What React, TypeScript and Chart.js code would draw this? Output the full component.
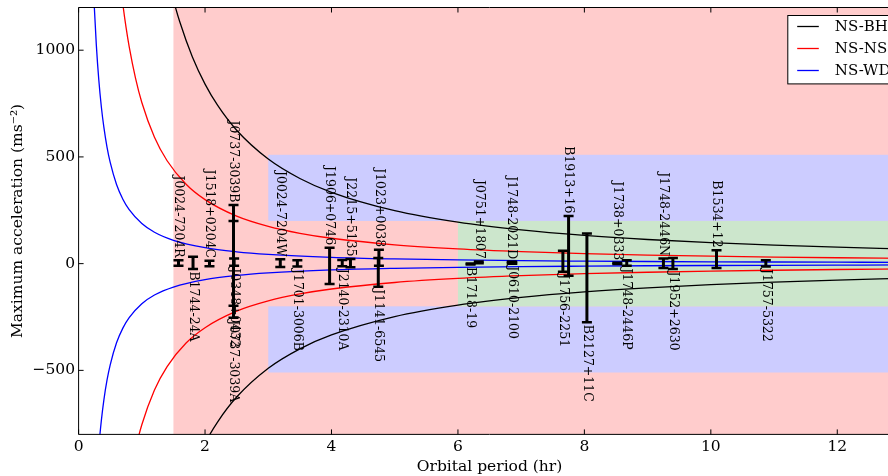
import React, { useEffect, useRef } from "react";
import { Chart, registerables } from "chart.js";

Chart.register(...registerables);

const FONT = "'DejaVu Serif', 'Liberation Serif', serif";

// Axis ticks
const xTicks = [0, 2, 4, 6, 8, 10, 12];
const xTickLabels = ["0", "2", "4", "6", "8", "10", "12"];
const yTicks = [-500, 0, 500, 1000];
const yTickLabels = ["\u2212500", "0", "500", "1000"];

// Curves
const seriesNames = ["NS-BH", "NS-NS", "NS-WD"];
const seriesColors = ["#000000", "#ff0000", "#0000ff"];

const bhPeriods = [1.4, 1.5, 1.6, 1.8, 2, 2.2, 2.5, 3, 3.5, 4, 5, 6, 7, 8, 9, 10, 11, 12, 13];
const bhUpper = [1354, 1235, 1133, 968, 841, 741, 625, 490, 399, 334, 248, 194.4, 158.3, 132.5, 113.2, 98.4, 86.7, 77.2, 69.3];
const bhLower = [-1354, -1235, -1133, -968, -841, -741, -625, -490, -399, -334, -248, -194.4, -158.3, -132.5, -113.2, -98.4, -86.7, -77.2, -69.3];

const nsPeriods = [0.6, 0.65, 0.7, 0.75, 0.8, 0.9, 1.0, 1.2, 1.4, 1.7, 2, 2.5, 3, 3.5, 4, 5, 6, 7, 8, 9, 10, 11, 12, 13];
const nsUpper = [1492, 1341, 1215, 1108, 1017, 869, 755, 592, 482, 372, 300, 222.5, 174.5, 142, 118.9, 88.3, 69.2, 56.4, 47.2, 40.3, 35.0, 30.9, 27.5, 24.7];
const nsLower = [-1492, -1341, -1215, -1108, -1017, -869, -755, -592, -482, -372, -300, -222.5, -174.5, -142, -118.9, -88.3, -69.2, -56.4, -47.2, -40.3, -35.0, -30.9, -27.5, -24.7];

const wdPeriods = [0.22, 0.25, 0.28, 0.32, 0.36, 0.4, 0.45, 0.5, 0.6, 0.7, 0.8, 1.0, 1.2, 1.5, 2, 2.5, 3, 4, 5, 6, 7, 8, 9, 10, 11, 12, 13];
const wdUpper = [1416, 1194, 1026, 859, 734, 638, 545, 474, 371, 302, 253, 188, 147, 109.5, 74.6, 55.4, 43.5, 29.6, 22.0, 17.2, 14.0, 11.8, 10.0, 8.7, 7.7, 6.8, 6.1];
const wdLower = [-1416, -1194, -1026, -859, -734, -638, -545, -474, -371, -302, -253, -188, -147, -109.5, -74.6, -55.4, -43.5, -29.6, -22.0, -17.2, -14.0, -11.8, -10.0, -8.7, -7.7, -6.8, -6.1];

// Pulsars
const pulsarNames = [
  "J0024-7204R", "B1744-24A", "J1518+0204C", "J0737-3039B", "J0737-3039A", "J0348+0432",
  "J0024-7204W", "J1701-3006B", "J1906+0746", "J2140-2310A", "J2215+5135", "J1023+0038",
  "J1141-6545", "B1718-19", "J0751+1807", "J1748-2021D", "J0610-2100", "J1756-2251",
  "B1913+16", "B2127+11C", "J1738+0333", "J1748-2446P", "J1748-2446N", "J1952+2630",
  "B1534+12", "J1757-5322",
];
const pulsarPeriods = [1.58, 1.81, 2.07, 2.45, 2.45, 2.46, 3.19, 3.46, 3.97, 4.17, 4.30, 4.75, 4.74, 6.20, 6.33, 6.85, 6.86, 7.66, 7.75, 8.04, 8.52, 8.67, 9.25, 9.40, 10.09, 10.87];
const accelLow = [-10, -25, -12, -197, -254, -10, -16, -13, -95, -12, -17, -10, -108, -4, 2, 1, 0, -38, -57, -275, -2, -10, -20, -25, -20, -13];
const accelHigh = [16, 32, 14, 275, 200, 24, 21, 16, 75, 17, 22, 65, 26, 1, 10, 9, 8, 60, 223, 141, 4, 16, 24, 27, 63, 16];
const labelSide = [
  "above", "below", "above", "above", "below", "below",
  "above", "below", "above", "below", "above", "above",
  "below", "below", "above", "above", "below", "below",
  "above", "below", "above", "below", "above", "below",
  "above", "below",
];

// Shaded regions
const bandStart = [1.5, 3, 3, 6];
const bandEnd = [13, 13, 13, 13];
const bandLow = [-800, 200, -510, -200];
const bandHigh = [1200, 510, -200, 200];
const bandColors = ["#ffcccc", "#ccccff", "#ccccff", "#cce6cc"];

const toPts = (xs: number[], ys: number[]) => xs.map((x, i) => ({ x, y: ys[i] }));

const bandsPlugin = {
  id: "bands",
  beforeDatasetsDraw(chart: any) {
    const { ctx, chartArea, scales } = chart;
    const xs = scales.x, ys = scales.y;
    ctx.save();
    ctx.beginPath();
    ctx.rect(chartArea.left, chartArea.top, chartArea.right - chartArea.left, chartArea.bottom - chartArea.top);
    ctx.clip();
    for (let i = 0; i < bandStart.length; i++) {
      const x0 = xs.getPixelForValue(bandStart[i]);
      const x1 = xs.getPixelForValue(bandEnd[i]);
      const y0 = ys.getPixelForValue(bandHigh[i]);
      const y1 = ys.getPixelForValue(bandLow[i]);
      ctx.fillStyle = bandColors[i];
      ctx.fillRect(x0, y0, x1 - x0, y1 - y0);
    }
    ctx.restore();
  },
};

const framePlugin = {
  id: "frame",
  afterDatasetsDraw(chart: any) {
    const { ctx, chartArea, scales } = chart;
    const xs = scales.x, ys = scales.y;
    const { left, right, top, bottom } = chartArea;
    ctx.save();
    ctx.strokeStyle = "#000";
    ctx.lineWidth = 1;
    ctx.beginPath();
    ctx.moveTo(left, top);
    ctx.lineTo(right, top);
    ctx.moveTo(left, top);
    ctx.lineTo(left, bottom);
    ctx.lineTo(right, bottom);
    ctx.moveTo(right, top);
    ctx.lineTo(right, bottom);
    const tl = 5;
    xTicks.forEach((v) => {
      const px = xs.getPixelForValue(v);
      ctx.moveTo(px, bottom);
      ctx.lineTo(px, bottom - tl);
      ctx.moveTo(px, top);
      ctx.lineTo(px, top + tl);
    });
    yTicks.forEach((v) => {
      const py = ys.getPixelForValue(v);
      ctx.moveTo(left, py);
      ctx.lineTo(left + tl, py);
      ctx.moveTo(right, py);
      ctx.lineTo(right - tl, py);
    });
    ctx.stroke();
    ctx.restore();
  },
};

const labelsPlugin = {
  id: "pulsarLabels",
  afterDatasetsDraw(chart: any) {
    const { ctx, scales } = chart;
    const xs = scales.x, ys = scales.y;
    ctx.save();
    ctx.fillStyle = "#000";
    ctx.font = `12.5px ${FONT}`;
    ctx.textBaseline = "middle";
    pulsarNames.forEach((name, i) => {
      const px = xs.getPixelForValue(pulsarPeriods[i]);
      const above = labelSide[i] === "above";
      const py = above ? ys.getPixelForValue(accelHigh[i]) - 2.5 : ys.getPixelForValue(accelLow[i]) + 2.5;
      ctx.save();
      ctx.translate(px, py);
      ctx.rotate(Math.PI / 2);
      ctx.textAlign = above ? "right" : "left";
      ctx.fillText(name, 0, 0);
      ctx.restore();
    });
    ctx.restore();
  },
};

const legendPlugin = {
  id: "legendBox",
  afterDraw(chart: any) {
    const { ctx, chartArea } = chart;
    const right = chartArea.right - 7;
    const top = chartArea.top + 8;
    const width = 105.7;
    const height = 68.4;
    const left = right - width;
    ctx.save();
    ctx.fillStyle = "#fff";
    ctx.fillRect(left, top, width, height);
    ctx.strokeStyle = "#000";
    ctx.lineWidth = 1;
    ctx.strokeRect(left, top, width, height);
    ctx.font = `15px ${FONT}`;
    ctx.textBaseline = "middle";
    ctx.textAlign = "left";
    seriesNames.forEach((n, i) => {
      const yy = top + 11 + i * 22;
      ctx.strokeStyle = seriesColors[i];
      ctx.lineWidth = 1.3;
      ctx.beginPath();
      ctx.moveTo(left + 9.4, yy);
      ctx.lineTo(left + 31, yy);
      ctx.stroke();
      ctx.fillStyle = "#000";
      ctx.fillText(n, left + 47, yy + 0.5);
    });
    ctx.restore();
  },
};

export default function App() {
  const ref = useRef<HTMLCanvasElement>(null);

  useEffect(() => {
    document.body.style.margin = "0";
    const errData: any[] = [];
    pulsarNames.forEach((_, i) => {
      errData.push({ x: pulsarPeriods[i], y: accelLow[i] });
      errData.push({ x: pulsarPeriods[i], y: accelHigh[i] });
      errData.push({ x: pulsarPeriods[i], y: null });
    });

    const curve = (label: string, xs: number[], ys: number[], color: string) => ({
      label,
      data: toPts(xs, ys),
      borderColor: color,
      backgroundColor: color,
      borderWidth: 1.3,
      pointRadius: 0,
      fill: false,
      cubicInterpolationMode: "monotone" as const,
    });

    const chart = new Chart(ref.current as HTMLCanvasElement, {
      type: "line",
      data: {
        datasets: [
          {
            label: "Pulsars",
            data: errData,
            borderColor: "#000",
            backgroundColor: "#000",
            borderWidth: 3,
            pointStyle: "line",
            pointRadius: 5,
            pointBorderWidth: 2.5,
            pointBorderColor: "#000",
            pointBackgroundColor: "#000",
            spanGaps: false,
            tension: 0,
            fill: false,
          } as any,
          curve(seriesNames[0], bhPeriods, bhUpper, seriesColors[0]),
          curve(seriesNames[0] + " (lower)", bhPeriods, bhLower, seriesColors[0]),
          curve(seriesNames[1], nsPeriods, nsUpper, seriesColors[1]),
          curve(seriesNames[1] + " (lower)", nsPeriods, nsLower, seriesColors[1]),
          curve(seriesNames[2], wdPeriods, wdUpper, seriesColors[2]),
          curve(seriesNames[2] + " (lower)", wdPeriods, wdLower, seriesColors[2]),
        ],
      },
      options: {
        responsive: false,
        animation: false,
        devicePixelRatio: 1,
        events: [],
        layout: { padding: { top: 5.4, left: 0, right: 0, bottom: 0 } },
        plugins: {
          legend: { display: false },
          tooltip: { enabled: false },
        },
        scales: {
          x: {
            type: "linear",
            min: 0,
            max: 13,
            grid: { display: false, drawTicks: false },
            border: { display: false },
            ticks: {
              includeBounds: false,
              autoSkip: false,
              maxRotation: 0,
              padding: 3,
              color: "#000",
              font: { family: FONT, size: 15.5 },
              callback: (v: any) => {
                const k = xTicks.indexOf(Number(v));
                return k >= 0 ? xTickLabels[k] : "";
              },
            },
            afterBuildTicks: (s: any) => {
              s.ticks = xTicks.map((v) => ({ value: v }));
            },
            afterFit: (s: any) => {
              s.height = 41.6;
              s.paddingLeft = 0;
              s.paddingRight = 0;
            },
            title: {
              display: true,
              text: "Orbital period (hr)",
              color: "#000",
              font: { family: FONT, size: 15.5 },
              padding: { top: 0, bottom: 0 },
            },
          },
          y: {
            type: "linear",
            min: -800,
            max: 1200,
            grid: { display: false, drawTicks: false },
            border: { display: false },
            ticks: {
              includeBounds: false,
              autoSkip: false,
              padding: 3.6,
              color: "#000",
              font: { family: FONT, size: 15.5 },
              callback: (v: any) => {
                const k = yTicks.indexOf(Number(v));
                return k >= 0 ? yTickLabels[k] : "";
              },
            },
            afterBuildTicks: (s: any) => {
              s.ticks = yTicks.map((v) => ({ value: v }));
            },
            afterFit: (s: any) => {
              s.width = 78.6;
              s.paddingTop = 0;
              s.paddingBottom = 0;
              s.paddingLeft = 0;
              s.paddingRight = 0;
            },
            title: {
              display: true,
              text: "Maximum acceleration (ms\u207B\u00B2)",
              color: "#000",
              font: { family: FONT, size: 15.5 },
              padding: { top: 8.5, bottom: 0 },
            },
          },
        },
      } as any,
      plugins: [bandsPlugin, framePlugin, labelsPlugin, legendPlugin],
    });
    return () => chart.destroy();
  }, []);

  return (
    <div
      style={{
        position: "fixed",
        left: 0,
        top: 0,
        width: 888,
        height: 476,
        overflow: "hidden",
        background: "#fff",
      }}
    >
      <canvas ref={ref} width={908} height={476} style={{ width: 908, height: 476, display: "block" }} />
    </div>
  );
}
